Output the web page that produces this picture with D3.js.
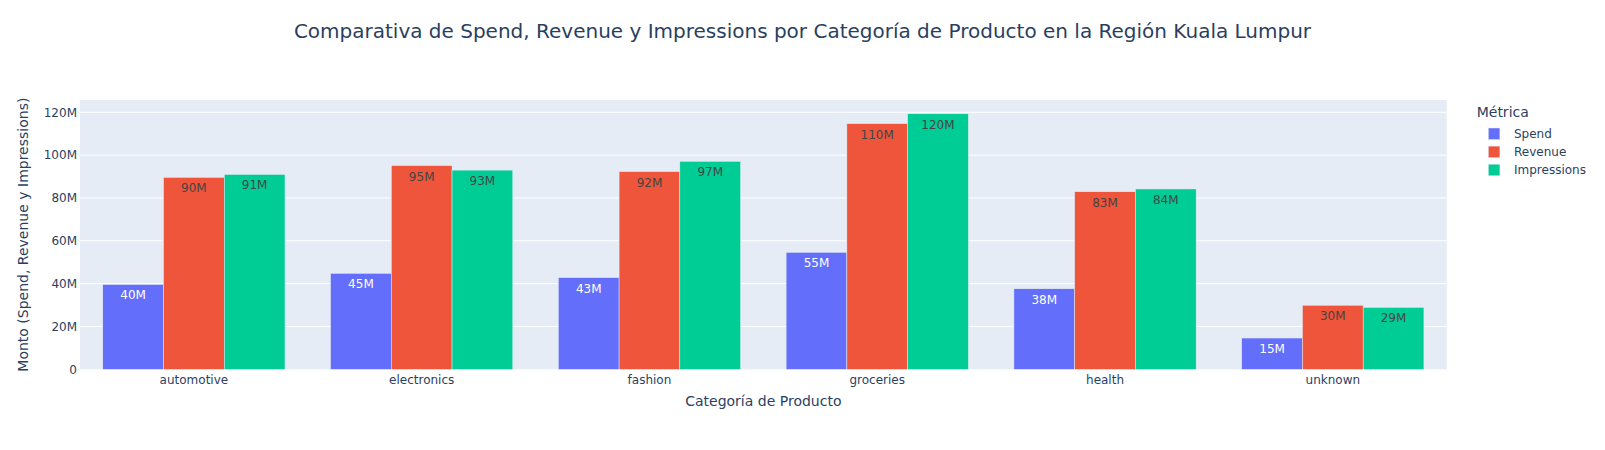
<!DOCTYPE html>
<html>
<head>
<meta charset="utf-8">
<script src="https://cdn.jsdelivr.net/npm/d3@7"></script>
<style>
  html, body { margin: 0; padding: 0; background: #fff; }
  svg { display: block; font-family: "DejaVu Sans", Verdana, sans-serif; }
</style>
</head>
<body>
<svg id="chart" width="1605" height="450"></svg>
<script>
const categories = ["automotive", "electronics", "fashion", "groceries", "health", "unknown"];
const seriesNames = ["Spend", "Revenue", "Impressions"];
const spend = [39.6e6, 44.8e6, 42.8e6, 54.6e6, 37.6e6, 14.6e6];
const revenue = [89.6e6, 95.1e6, 92.3e6, 114.7e6, 82.9e6, 29.9e6];
const impressions = [91.0e6, 93.0e6, 97.1e6, 119.3e6, 84.2e6, 28.9e6];
const yTicks = [0, 20e6, 40e6, 60e6, 80e6, 100e6, 120e6];
const seriesColors = ["#636efa", "#EF553B", "#00cc96"];
const textColors = ["#ffffff", "#444444", "#444444"];

const titleText = "Comparativa de Spend, Revenue y Impressions por Categoría de Producto en la Región Kuala Lumpur";
const xTitle = "Categoría de Producto";
const yTitle = "Monto (Spend, Revenue y Impressions)";
const legendTitle = "Métrica";

const seriesValues = [spend, revenue, impressions];

const W = 1605, H = 450;
const margin = {left: 80, top: 100, right: 158.3, bottom: 80.7};
const pw = W - margin.left - margin.right;
const ph = H - margin.top - margin.bottom;
const textColor = "#2a3f5f";

const svg = d3.select("#chart");

const x = d3.scaleBand().domain(categories).range([0, pw]).paddingInner(0.2).paddingOuter(0.1);
const xs = d3.scaleBand().domain(seriesNames).range([0, x.bandwidth()]).padding(0);
const y = d3.scaleLinear().domain([0, 125.74e6]).range([ph, 0]);

const g = svg.append("g").attr("transform", `translate(${margin.left},${margin.top})`);

g.append("rect").attr("width", pw).attr("height", ph).attr("fill", "#E5ECF6");

// gridlines
g.append("g").selectAll("line").data(yTicks.filter(d => d > 0)).join("line")
  .attr("x1", 0).attr("x2", pw)
  .attr("y1", d => y(d)).attr("y2", d => y(d))
  .attr("stroke", "#fff").attr("stroke-width", 1);

// y axis labels
const yAxis = d3.axisLeft(y).tickValues(yTicks).tickFormat(d3.format("~s")).tickSize(0).tickPadding(3);
const ya = g.append("g").call(yAxis);
ya.select(".domain").remove();
ya.selectAll("text").attr("fill", textColor).attr("font-size", 12)
  .attr("font-family", "DejaVu Sans, Verdana, sans-serif");

// x axis labels
const xAxis = d3.axisBottom(x).tickSize(0).tickPadding(6);
const xa = g.append("g").attr("transform", `translate(0,${ph})`).call(xAxis);
xa.select(".domain").remove();
xa.selectAll("text").attr("fill", textColor).attr("font-size", 12)
  .attr("font-family", "DejaVu Sans, Verdana, sans-serif");

// bars
const fmt = d3.format(".2s");
seriesNames.forEach((s, si) => {
  const vals = seriesValues[si];
  const sg = g.append("g");
  sg.selectAll("rect").data(categories).join("rect")
    .attr("x", c => x(c) + xs(s))
    .attr("y", (c, i) => y(vals[i]))
    .attr("width", xs.bandwidth())
    .attr("height", (c, i) => ph - y(vals[i]))
    .attr("fill", seriesColors[si])
    .attr("stroke", "#E5ECF6").attr("stroke-width", 0.5);
  sg.selectAll("text").data(categories).join("text")
    .attr("x", c => x(c) + xs(s) + xs.bandwidth() / 2)
    .attr("y", (c, i) => y(vals[i]) + 15)
    .attr("text-anchor", "middle")
    .attr("font-size", 12)
    .attr("fill", textColors[si])
    .text((c, i) => fmt(vals[i]));
});

// zero line
g.append("line").attr("x1", 0).attr("x2", pw).attr("y1", y(0)).attr("y2", y(0))
  .attr("stroke", "#fff").attr("stroke-width", 0);

// title
svg.append("text").attr("x", W / 2).attr("y", 38).attr("text-anchor", "middle")
  .attr("font-size", 20).attr("fill", textColor).text(titleText);

// x title
svg.append("text").attr("x", margin.left + pw / 2).attr("y", 406).attr("text-anchor", "middle")
  .attr("font-size", 14).attr("fill", textColor).text(xTitle);

// y title
svg.append("text")
  .attr("transform", `translate(28,${margin.top + ph / 2}) rotate(-90)`)
  .attr("text-anchor", "middle")
  .attr("font-size", 14).attr("fill", textColor).text(yTitle);

// legend
const lg = svg.append("g");
lg.append("text").attr("x", 1476.7).attr("y", 117).attr("font-size", 14).attr("fill", textColor).text(legendTitle);
seriesNames.forEach((s, i) => {
  const cy = 133.8 + i * 18.1;
  lg.append("rect").attr("x", 1488.3).attr("y", cy - 5.8).attr("width", 11.6).attr("height", 11.6)
    .attr("fill", seriesColors[i]).attr("stroke", "#E5ECF6").attr("stroke-width", 0.5);
  lg.append("text").attr("x", 1514).attr("y", cy + 4.2).attr("font-size", 12).attr("fill", textColor).text(s);
});
</script>
</body>
</html>
